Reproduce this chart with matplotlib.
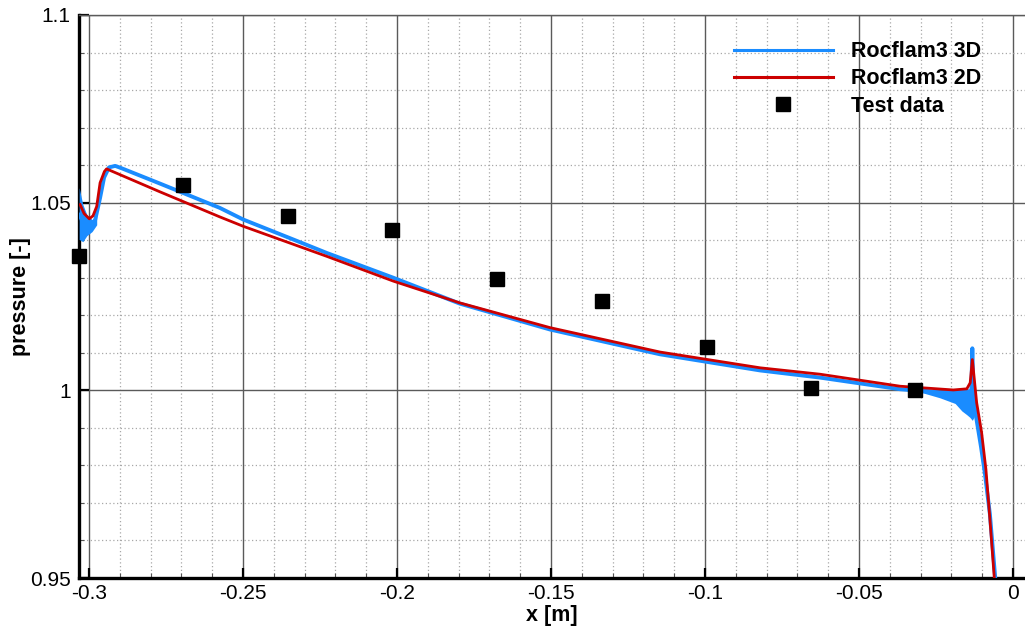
import numpy as np
import matplotlib
matplotlib.use('Agg')
import matplotlib.pyplot as plt
from matplotlib.ticker import MultipleLocator

plt.rcParams['font.family'] = ['Liberation Sans', 'DejaVu Sans']

# Rocflam3 2D
red_x = [-0.3029, -0.3016, -0.2999, -0.2987, -0.2975, -0.2964, -0.2950, -0.2943,
         -0.2770, -0.2575, -0.2499, -0.2228, -0.2012, -0.1796, -0.1503, -0.1146,
         -0.0821, -0.0627, -0.0367, -0.0194, -0.0150, -0.0139, -0.0132, -0.0118,
         -0.0102, -0.0088, -0.0075, -0.0061]
red_y = [1.0495, 1.0471, 1.0457, 1.0465, 1.0490, 1.0553, 1.0583, 1.0590,
         1.0529, 1.0462, 1.0437, 1.0357, 1.0291, 1.0233, 1.0167, 1.0102,
         1.0060, 1.0043, 1.0011, 1.0001, 1.0004, 1.0020, 1.0082, 0.9967,
         0.9888, 0.9790, 0.9657, 0.9503]

# Rocflam3 3D (mittlere Linie)
blue_x = [-0.3031, -0.3013, -0.2997, -0.2981, -0.2964, -0.2951, -0.2935, -0.2915,
          -0.2895, -0.2770, -0.2575, -0.2499, -0.2337, -0.2228, -0.2012, -0.1796,
          -0.1503, -0.1146, -0.0821, -0.0627, -0.0367, -0.0237, -0.0188, -0.0160,
          -0.0145, -0.0136, -0.0132, -0.0128, -0.0118, -0.0104, -0.0091, -0.0075,
          -0.0058]
blue_y = [1.0468, 1.0434, 1.0428, 1.0450, 1.0513, 1.0567, 1.0594, 1.0598,
          1.0592, 1.0551, 1.0486, 1.0455, 1.0402, 1.0366, 1.0300, 1.0231,
          1.0162, 1.0096, 1.0053, 1.0034, 1.0003, 0.9994, 0.9986, 0.9978,
          0.9970, 0.9975, 1.0112, 0.9975, 0.9920, 0.9850, 0.9777, 0.9670,
          0.9503]

# 3D Streuband am Einlass
band_l_x = [-0.3032, -0.3020, -0.3007, -0.2990, -0.2975]
band_l_lo = [1.0402, 1.0396, 1.0412, 1.0423, 1.0441]
band_l_hi = [1.0540, 1.0495, 1.0468, 1.0455, 1.0468]

# 3D Streuband am Auslass
band_r_x = [-0.0300, -0.0237, -0.0188, -0.0166, -0.0150, -0.0140, -0.0132, -0.0126]
band_r_lo = [0.9995, 0.9980, 0.9965, 0.9945, 0.9935, 0.9928, 0.9920, 0.9930]
band_r_hi = [1.0006, 1.0001, 1.0002, 1.0003, 1.0004, 1.0004, 1.0004, 0.9990]

# Messdaten
test_x = [-0.3032, -0.2695, -0.2354, -0.2015, -0.1675, -0.1336, -0.0995, -0.0656, -0.0317]
test_y = [1.0359, 1.0548, 1.0465, 1.0427, 1.0297, 1.0237, 1.0116, 1.0007, 1.0000]

blue = '#1a8cff'
red = '#cc0000'

fig = plt.figure(figsize=(10.25, 6.28), dpi=100)
ax = fig.add_axes([79 / 1025, 50 / 628, 946 / 1025, 563 / 628])

ax.fill_between(band_l_x, band_l_lo, band_l_hi, color=blue, lw=0, zorder=3)
ax.fill_between(band_r_x, band_r_lo, band_r_hi, color=blue, lw=0, zorder=3)
ax.plot(blue_x, blue_y, color=blue, lw=2.8, label='Rocflam3 3D', zorder=3)
ax.plot(red_x, red_y, color=red, lw=2.0, label='Rocflam3 2D', zorder=4)
ax.plot(test_x, test_y, 's', color='black', ms=10, ls='none', label='Test data',
        zorder=5, clip_on=False)

ax.set_xlim(-0.303247, 0.003896)
ax.set_ylim(0.95, 1.1)

ax.xaxis.set_minor_locator(MultipleLocator(0.01))
ax.yaxis.set_minor_locator(MultipleLocator(0.01))
ax.set_xticks([-0.3, -0.25, -0.2, -0.15, -0.1, -0.05, 0])
ax.set_xticklabels(['-0.3', '-0.25', '-0.2', '-0.15', '-0.1', '-0.05', '0'])
ax.set_yticks([0.95, 1.0, 1.05, 1.1])
ax.set_yticklabels(['0.95', '1', '1.05', '1.1'])

ax.grid(which='major', color='#5a5a5a', lw=1.0, ls='-', zorder=1)
ax.grid(which='minor', color='#a8a8a8', lw=0.9, ls=(0, (1, 2)), zorder=1)
ax.set_axisbelow(True)

ax.tick_params(which='major', direction='in', length=7, width=1.6, labelsize=15,
               color='black', pad=6)
ax.tick_params(axis='x', which='major', pad=4.5)
ax.tick_params(which='minor', direction='in', length=3.5, width=0.8, color='#555555')

for side in ['left', 'bottom']:
    ax.spines[side].set_linewidth(2.4)
    ax.spines[side].set_color('black')
ax.spines['top'].set_linewidth(1.0)
ax.spines['top'].set_color('#5a5a5a')
ax.spines['right'].set_visible(False)

ax.set_xlabel('x [m]', fontsize=15.5, fontweight='bold', va='center')
ax.xaxis.set_label_coords(0.5, -(615 - 578) / 563)
ax.set_ylabel('pressure [-]', fontsize=15.5, fontweight='bold', va='center')
ax.yaxis.set_label_coords(-(79 - 21) / 946, 0.5)

leg = ax.legend(loc='upper left', bbox_to_anchor=(0.692, 0.953), frameon=False,
                prop={'size': 15.5, 'weight': 'bold'}, handlelength=4.6,
                handletextpad=0.85, labelspacing=0.28, borderpad=0, borderaxespad=0)
for ln in leg.get_lines():
    ln.set_linewidth(2.2)

plt.savefig('out.png', dpi=100)
